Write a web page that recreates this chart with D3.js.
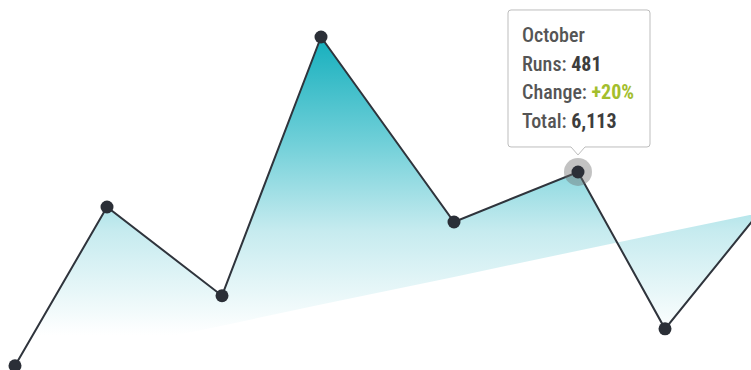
<!DOCTYPE html>
<html><head><meta charset="utf-8">
<script src="https://cdn.jsdelivr.net/npm/d3@7"></script>
<style>
html,body{margin:0;padding:0;background:#fff;}
svg{display:block;}
.tip text{font-family:"Liberation Sans Narrow","Roboto Condensed","DejaVu Sans Condensed",sans-serif;font-size:20px;}
</style></head>
<body>
<svg id="chart" width="751" height="370"></svg>
<script>
// ---- data ----
const months   = ["May","June","July","August","September","October","November","December"];
const position = [0, 9.2, 20.7, 30.6, 43.9, 56.3, 65.0, 77.0];   // spacing along the time axis
const runs     = [171, 425, 283, 697, 401, 481, 230, 467];
const baseline = [166, 197, 235, 269, 313, 355, 384, 424];
const activeMonth = "October";
const activeTotal = 6113;

const W = 751, H = 370;
const svg = d3.select("#chart");

const x = d3.scaleLinear().domain([0, 100]).range([15, 1015]);
const y = d3.scaleLinear().domain([0, 800]).range([472.6, -27.4]);

const data = months.map((m, i) => ({month: m, t: position[i], runs: runs[i], base: baseline[i]}));

// gradient
const defs = svg.append("defs");
const grad = defs.append("linearGradient").attr("id", "fillGrad")
  .attr("gradientUnits", "userSpaceOnUse")
  .attr("x1", 0).attr("x2", 0).attr("y1", y(697)).attr("y2", 335);
grad.append("stop").attr("offset", 0).attr("stop-color", "#15afbd");
grad.append("stop").attr("offset", 0.35).attr("stop-color", "#6fcfd8");
grad.append("stop").attr("offset", 0.65).attr("stop-color", "#c6ebef");
grad.append("stop").attr("offset", 1).attr("stop-color", "#ffffff");

const area = d3.area().x(d => x(d.t)).y0(d => y(d.base)).y1(d => y(d.runs));
svg.append("path").datum(data).attr("d", area).attr("fill", "url(#fillGrad)");

const line = d3.line().x(d => x(d.t)).y(d => y(d.runs));
svg.append("path").datum(data).attr("d", line)
  .attr("fill", "none").attr("stroke", "#2f343c").attr("stroke-width", 2);

// highlight ring
const ai = months.indexOf(activeMonth);
const ad = data[ai];
svg.append("circle").attr("cx", x(ad.t)).attr("cy", y(ad.runs)).attr("r", 14)
  .attr("fill", "rgba(110,110,110,0.42)");

svg.selectAll("circle.pt").data(data).join("circle").attr("class", "pt")
  .attr("cx", d => x(d.t)).attr("cy", d => y(d.runs)).attr("r", 6.5)
  .attr("fill", "#2b2f37");

// tooltip
const prev = data[ai - 1];
const change = Math.round((ad.runs - prev.runs) / prev.runs * 100);
const px = x(ad.t), py = y(ad.runs);
const bw = 142, bh = 137, bx = px - 70, by = py - 162;
const tip = svg.append("g").attr("class", "tip");
const tipPath = `M${bx+3},${by} H${bx+bw-3} Q${bx+bw},${by} ${bx+bw},${by+3} V${by+bh-3} Q${bx+bw},${by+bh} ${bx+bw-3},${by+bh}
 H${px+7} L${px},${by+bh+8} L${px-7},${by+bh} H${bx+3} Q${bx},${by+bh} ${bx},${by+bh-3} V${by+3} Q${bx},${by} ${bx+3},${by} Z`;
tip.append("path").attr("d", tipPath).attr("fill", "#fff").attr("stroke", "#bdbdbd").attr("stroke-width", 1);

const tx = bx + 14;
const rows = [
  [{t: activeMonth, c: "#555", w: 500}],
  [{t: "Runs: ", c: "#555", w: 500}, {t: String(ad.runs), c: "#3d3d3d", w: 700}],
  [{t: "Change: ", c: "#555", w: 500}, {t: (change >= 0 ? "+" : "") + change + "%", c: "#a3be2d", w: 700}],
  [{t: "Total: ", c: "#555", w: 500}, {t: d3.format(",")(activeTotal), c: "#3d3d3d", w: 700}]
];
rows.forEach((r, i) => {
  const te = tip.append("text").attr("x", tx).attr("y", by + 32 + i * 28.7);
  r.forEach(s => te.append("tspan").text(s.t).attr("fill", s.c).attr("font-weight", s.w));
});
</script>
</body></html>
